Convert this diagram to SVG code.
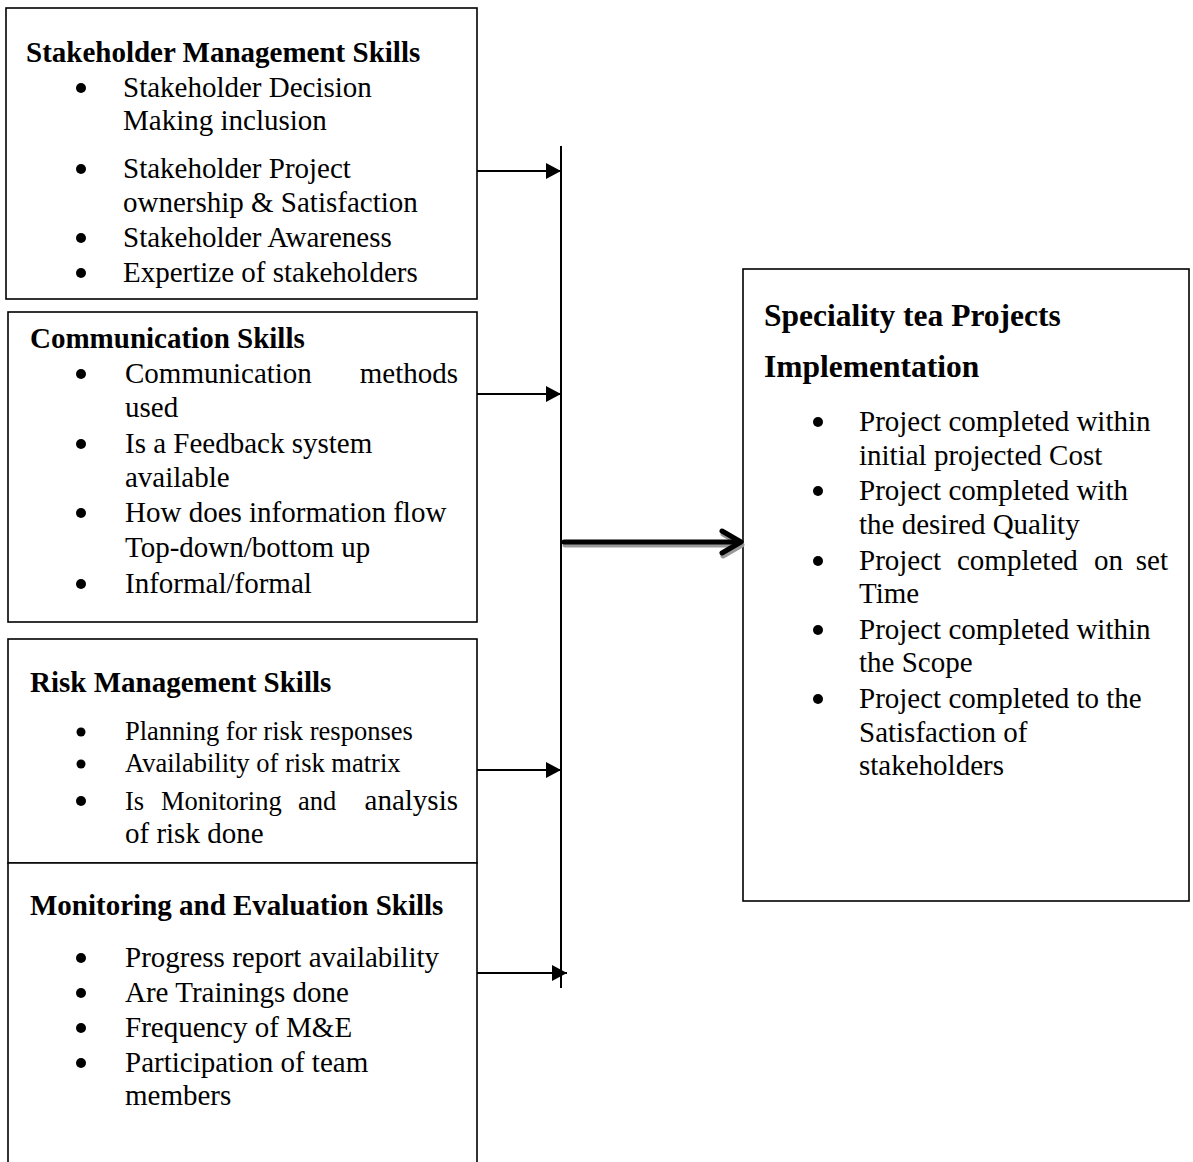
<svg xmlns="http://www.w3.org/2000/svg" width="1193" height="1162" viewBox="0 0 1193 1162">
<style>
text{font-family:"Liberation Serif","Times New Roman",serif;fill:#000}
.h{font-weight:bold;font-size:29px}
.h2{font-weight:bold;font-size:31.5px}
.b{font-size:29px}
.s{font-size:26.5px}
.box{fill:#fff;stroke:#000;stroke-width:1.6}
.ln{fill:none;stroke:#000;stroke-width:2}
.dot{fill:#000}
</style>
<defs>
<marker id="ah" markerUnits="userSpaceOnUse" markerWidth="16" markerHeight="16" refX="15" refY="8" orient="auto">
<path d="M0,0 L15,8 L0,16 Z" fill="#000"/>
</marker>
</defs>
<rect width="1193" height="1162" fill="#fff"/>

<g id="stakeholder">
<rect class="box" x="6" y="8" width="471" height="291"/>
<text class="h" x="26" y="62">Stakeholder Management Skills</text>
<circle class="dot" cx="81" cy="88" r="5"/>
<text class="b" x="123" y="97">Stakeholder Decision</text>
<text class="b" x="123" y="130">Making inclusion</text>
<circle class="dot" cx="81" cy="169" r="5"/>
<text class="b" x="123" y="178">Stakeholder Project</text>
<text class="b" x="123" y="212">ownership &amp; Satisfaction</text>
<circle class="dot" cx="81" cy="238" r="5"/>
<text class="b" x="123" y="247">Stakeholder Awareness</text>
<circle class="dot" cx="81" cy="273" r="5"/>
<text class="b" x="123" y="282">Expertize of stakeholders</text>
</g>

<g id="communication">
<rect class="box" x="8" y="312" width="469" height="310"/>
<text class="h" x="30" y="348">Communication Skills</text>
<circle class="dot" cx="81" cy="374" r="5"/>
<text class="b" x="125" y="383">Communication</text>
<text class="b" x="458" y="383" text-anchor="end">methods</text>
<text class="b" x="125" y="417">used</text>
<circle class="dot" cx="81" cy="444" r="5"/>
<text class="b" x="125" y="453">Is a Feedback system</text>
<text class="b" x="125" y="487">available</text>
<circle class="dot" cx="81" cy="513" r="5"/>
<text class="b" x="125" y="522">How does information flow</text>
<text class="b" x="125" y="557">Top-down/bottom up</text>
<circle class="dot" cx="81" cy="584" r="5"/>
<text class="b" x="125" y="593">Informal/formal</text>
</g>

<g id="risk">
<rect class="box" x="8" y="639" width="469" height="224"/>
<text class="h" x="30" y="692">Risk Management Skills</text>
<circle class="dot" cx="81" cy="732" r="4.5"/>
<text class="s" x="125" y="740">Planning for risk responses</text>
<circle class="dot" cx="81" cy="764" r="4.5"/>
<text class="s" x="125" y="772">Availability of risk matrix</text>
<circle class="dot" cx="81" cy="801" r="5"/>
<text class="s" x="125" y="810">Is</text>
<text class="s" x="161" y="810">Monitoring</text>
<text class="s" x="298" y="810">and</text>
<text class="b" x="458" y="810" text-anchor="end">analysis</text>
<text class="b" x="125" y="843">of risk done</text>
</g>

<g id="monitoring">
<path class="box" d="M8,1162 V863 H477 V1162"/>
<text class="h" x="30" y="915">Monitoring and Evaluation Skills</text>
<circle class="dot" cx="81" cy="958" r="5"/>
<text class="b" x="125" y="967">Progress report availability</text>
<circle class="dot" cx="81" cy="993" r="5"/>
<text class="b" x="125" y="1002">Are Trainings done</text>
<circle class="dot" cx="81" cy="1028" r="5"/>
<text class="b" x="125" y="1037">Frequency of M&amp;E</text>
<circle class="dot" cx="81" cy="1063" r="5"/>
<text class="b" x="125" y="1072">Participation of team</text>
<text class="b" x="125" y="1105">members</text>
</g>

<g id="implementation">
<rect class="box" x="743" y="269" width="446" height="632"/>
<text class="h2" x="764" y="326">Speciality tea Projects</text>
<text class="h2" x="764" y="377">Implementation</text>
<circle class="dot" cx="818" cy="422" r="5"/>
<text class="b" x="859" y="431">Project completed within</text>
<text class="b" x="859" y="465">initial projected Cost</text>
<circle class="dot" cx="818" cy="491" r="5"/>
<text class="b" x="859" y="500">Project completed with</text>
<text class="b" x="859" y="534">the desired Quality</text>
<circle class="dot" cx="818" cy="561" r="5"/>
<text class="b" x="859" y="570">Project</text>
<text class="b" x="957" y="570">completed</text>
<text class="b" x="1094" y="570">on</text>
<text class="b" x="1168" y="570" text-anchor="end">set</text>
<text class="b" x="859" y="603">Time</text>
<circle class="dot" cx="818" cy="630" r="5"/>
<text class="b" x="859" y="639">Project completed within</text>
<text class="b" x="859" y="672">the Scope</text>
<circle class="dot" cx="818" cy="699" r="5"/>
<text class="b" x="859" y="708">Project completed to the</text>
<text class="b" x="859" y="742">Satisfaction of</text>
<text class="b" x="859" y="775">stakeholders</text>
</g>

<g id="connectors">
<line class="ln" x1="561" y1="146" x2="561" y2="988"/>
<line class="ln" x1="477" y1="171" x2="561" y2="171" marker-end="url(#ah)"/>
<line class="ln" x1="477" y1="394" x2="561" y2="394" marker-end="url(#ah)"/>
<line class="ln" x1="477" y1="770" x2="561" y2="770" marker-end="url(#ah)"/>
<line class="ln" x1="477" y1="973" x2="567" y2="973" marker-end="url(#ah)"/>
<g transform="translate(1,3)" stroke="#999" stroke-width="5" fill="none" stroke-linecap="round" stroke-linejoin="round">
<line x1="564" y1="542" x2="740" y2="542"/>
<path d="M722,531 L741,542 L722,553"/>
</g>
<g stroke="#000" stroke-width="5" fill="none" stroke-linecap="round" stroke-linejoin="round">
<line x1="564" y1="542" x2="740" y2="542"/>
<path d="M722,531 L741,542 L722,553"/>
</g>
</g>
</svg>
